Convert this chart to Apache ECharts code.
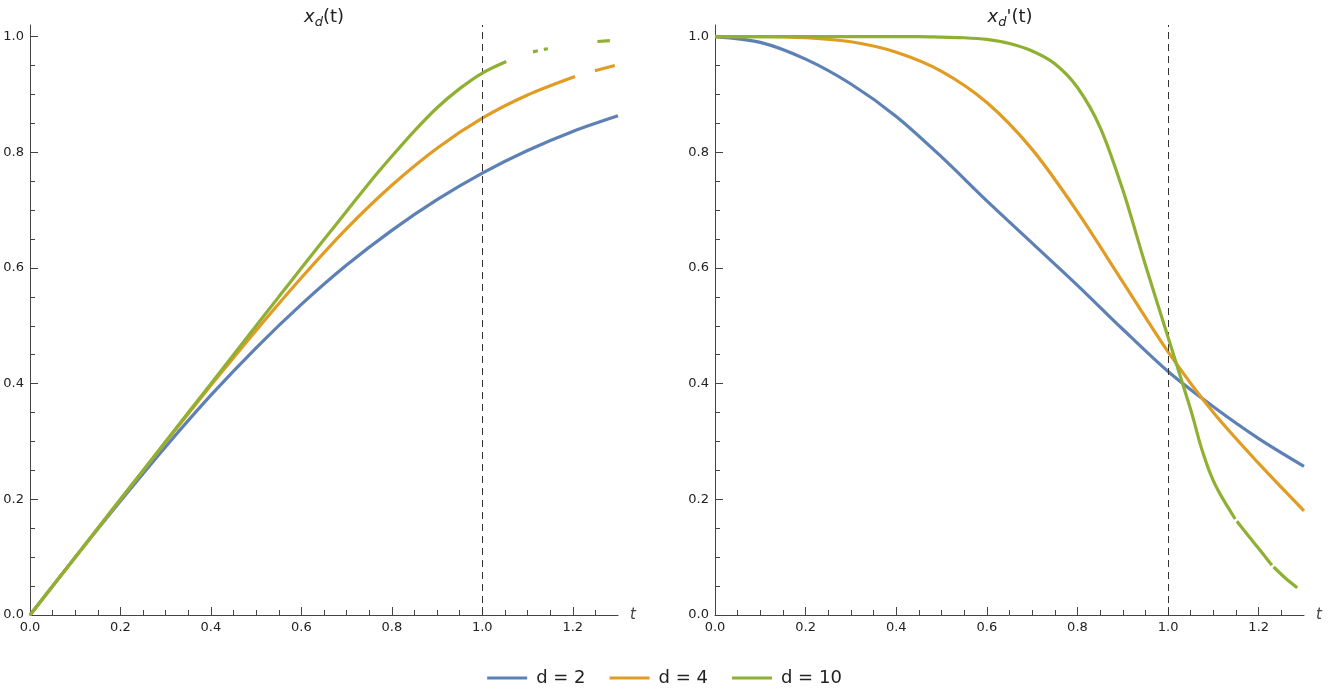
<!DOCTYPE html>
<html>
<head>
<meta charset="utf-8">
<script src="https://cdn.jsdelivr.net/npm/echarts@6/dist/echarts.min.js"></script>
<style>
  html, body { margin: 0; padding: 0; background: #fff; }
  #main { width: 1329px; height: 699px; }
</style>
</head>
<body>
<div id="main"></div>
<script>
// values, [t, value]; null = gap in the drawn curve
const names = ["d = 2", "d = 4", "d = 10"];
const colors = ["#5e81b5", "#e19c24", "#8fb032"];

// left panel: x_d(t)
const x2 = [[0, 0], [0.1, 0.100], [0.2, 0.197], [0.3, 0.291], [0.4, 0.380], [0.5, 0.462], [0.6, 0.537],
  [0.7, 0.605], [0.8, 0.665], [0.9, 0.718], [1.0, 0.764], [1.1, 0.803], [1.2, 0.836], [1.3, 0.863]];
const x4 = [[0, 0], [0.1, 0.100], [0.2, 0.200], [0.3, 0.299], [0.4, 0.397], [0.5, 0.492], [0.6, 0.583],
  [0.7, 0.668], [0.8, 0.743], [0.9, 0.807], [1.0, 0.859], [1.1, 0.899], [1.205, 0.931], [1.227, null],
  [1.249, 0.941], [1.293, 0.950]];
const x10 = [[0, 0], [0.1, 0.1], [0.2, 0.2], [0.3, 0.3], [0.4, 0.4], [0.5, 0.5], [0.55, 0.55], [0.6, 0.5997],
  [0.65, 0.649], [0.7, 0.698], [0.75, 0.747], [0.8, 0.793], [0.85, 0.837], [0.9, 0.877], [0.95, 0.910],
  [1.0, 0.937], [1.053, 0.957], [1.08, null], [1.112, 0.9735], [1.123, 0.9755], [1.13, null], [1.136, 0.978],
  [1.145, 0.979], [1.2, null], [1.2545, 0.9915], [1.282, 0.993]];

// right panel: x_d'(t)
const dx2 = [[0, 1.0], [0.1, 0.990], [0.2, 0.961], [0.3, 0.918], [0.4, 0.862], [0.5, 0.792], [0.6, 0.716],
  [0.7, 0.643], [0.8, 0.570], [0.9, 0.494], [1.0, 0.421], [1.1, 0.360], [1.2, 0.305], [1.3, 0.257]];
const dx4 = [[0, 1.0], [0.1, 1.0], [0.2, 0.998], [0.3, 0.991], [0.4, 0.973], [0.5, 0.940], [0.6, 0.886],
  [0.7, 0.805], [0.8, 0.697], [0.9, 0.576], [1.0, 0.455], [1.1, 0.350], [1.2, 0.262], [1.3, 0.180]];
const dx10 = [[0, 1.0], [0.1, 1.0], [0.2, 1.0], [0.3, 1.0], [0.4, 1.0], [0.45, 1.0], [0.5, 0.999],
  [0.55, 0.998], [0.6, 0.995], [0.65, 0.988], [0.7, 0.975], [0.75, 0.953], [0.8, 0.912], [0.85, 0.843],
  [0.9, 0.735], [0.95, 0.605], [1.0, 0.480], [1.05, 0.355], [1.06, 0.327], [1.07, 0.298], [1.08, 0.273],
  [1.09, 0.251], [1.1, 0.232], [1.11, 0.216], [1.12, 0.202], [1.13, 0.189], [1.148, 0.166], [1.15, null],
  [1.152, 0.162], [1.175, 0.139], [1.2, 0.115], [1.229, 0.086], [1.231, null],
  [1.233, 0.083], [1.26, 0.063], [1.285, 0.047]];

const xMajor = [0, 0.2, 0.4, 0.6, 0.8, 1.0, 1.2];
const xMinor = [0.05, 0.1, 0.15, 0.25, 0.3, 0.35, 0.45, 0.5, 0.55, 0.65, 0.7, 0.75, 0.85, 0.9, 0.95,
  1.05, 1.1, 1.15, 1.25];
const yMajor = [0, 0.2, 0.4, 0.6, 0.8, 1.0];
const yMinor = [0.05, 0.1, 0.15, 0.25, 0.3, 0.35, 0.45, 0.5, 0.55, 0.65, 0.7, 0.75, 0.85, 0.9, 0.95];
const dashT = 1.0;

const font = "DejaVu Sans";
const axisColor = "#444";

function xAxisPair(grid) {
  return [
    {
      type: "value", gridIndex: grid, min: 0, max: 1.3, position: "bottom",
      axisLine: { onZero: false, lineStyle: { color: axisColor, width: 1 } },
      axisTick: { inside: true, length: 8, customValues: xMajor, lineStyle: { color: axisColor } },
      axisLabel: { customValues: xMajor, formatter: v => v.toFixed(1), color: "#222",
        fontFamily: font, fontSize: 13, margin: 6 },
      splitLine: { show: false },
      name: "t", nameLocation: "end", nameGap: 12,
      nameTextStyle: { fontStyle: "italic", fontFamily: font, fontSize: 15, color: "#444",
        verticalAlign: "middle" }
    },
    {
      type: "value", gridIndex: grid, min: 0, max: 1.3, position: "bottom",
      axisLine: { show: false, onZero: false },
      axisTick: { inside: true, length: 5, customValues: xMinor, lineStyle: { color: axisColor } },
      axisLabel: { show: false },
      splitLine: { show: false }
    }
  ];
}

function yAxisPair(grid) {
  return [
    {
      type: "value", gridIndex: grid, min: 0, max: 1.02, position: "left",
      axisLine: { show: true, onZero: false, lineStyle: { color: axisColor, width: 1 } },
      axisTick: { show: true, inside: true, length: 8, customValues: yMajor, lineStyle: { color: axisColor } },
      axisLabel: { customValues: yMajor, formatter: v => v.toFixed(1), color: "#222",
        fontFamily: font, fontSize: 13, margin: 6 },
      splitLine: { show: false }
    },
    {
      type: "value", gridIndex: grid, min: 0, max: 1.02, position: "left",
      axisLine: { show: false, onZero: false },
      axisTick: { show: true, inside: true, length: 5, customValues: yMinor, lineStyle: { color: axisColor } },
      axisLabel: { show: false },
      splitLine: { show: false }
    }
  ];
}

function curve(i, data, axis, withMark) {
  const s = {
    type: "line", name: names[i], data: data,
    xAxisIndex: axis, yAxisIndex: axis,
    symbol: "none", smooth: 0.3, connectNulls: false,
    lineStyle: { width: 3.2, color: colors[i] },
    itemStyle: { color: colors[i] },
    z: 3 + i
  };
  if (withMark) {
    s.markLine = {
      silent: true, symbol: "none", label: { show: false },
      lineStyle: { type: [7, 5], color: "#333", width: 1 },
      data: [{ xAxis: dashT }]
    };
  }
  return s;
}

const titleRich = {
  i: { fontFamily: font, fontStyle: "italic", fontSize: 18, fill: "#222" },
  s: { fontFamily: font, fontStyle: "italic", fontSize: 13, fill: "#222", padding: [10, 0, 0, 0] },
  n: { fontFamily: font, fontSize: 18, fill: "#222" }
};

const chart = echarts.init(document.getElementById("main"));
chart.setOption({
  animation: false,
  backgroundColor: "#fff",
  grid: [
    { left: 30, top: 25, width: 588, height: 590 },
    { left: 715, top: 25, width: 589, height: 590 }
  ],
  xAxis: xAxisPair(0).concat(xAxisPair(1)),
  yAxis: yAxisPair(0).concat(yAxisPair(1)),
  legend: {
    data: names, left: "center", top: 664,
    icon: "rect", itemWidth: 40, itemHeight: 3, itemGap: 24,
    textStyle: { fontFamily: font, fontSize: 18, color: "#222", padding: [0, 0, 0, 4] }
  },
  graphic: [
    { type: "text", x: 324, y: 6, style: { text: "{i|x}{s|d}{n|(t)}", rich: titleRich, textAlign: "center" } },
    { type: "text", x: 1010, y: 6, style: { text: "{i|x}{s|d}{n|'(t)}", rich: titleRich, textAlign: "center" } }
  ],
  series: [
    curve(0, x2, 0, true), curve(1, x4, 0, false), curve(2, x10, 0, false),
    curve(0, dx2, 2, true), curve(1, dx4, 2, false), curve(2, dx10, 2, false)
  ]
});
</script>
</body>
</html>
